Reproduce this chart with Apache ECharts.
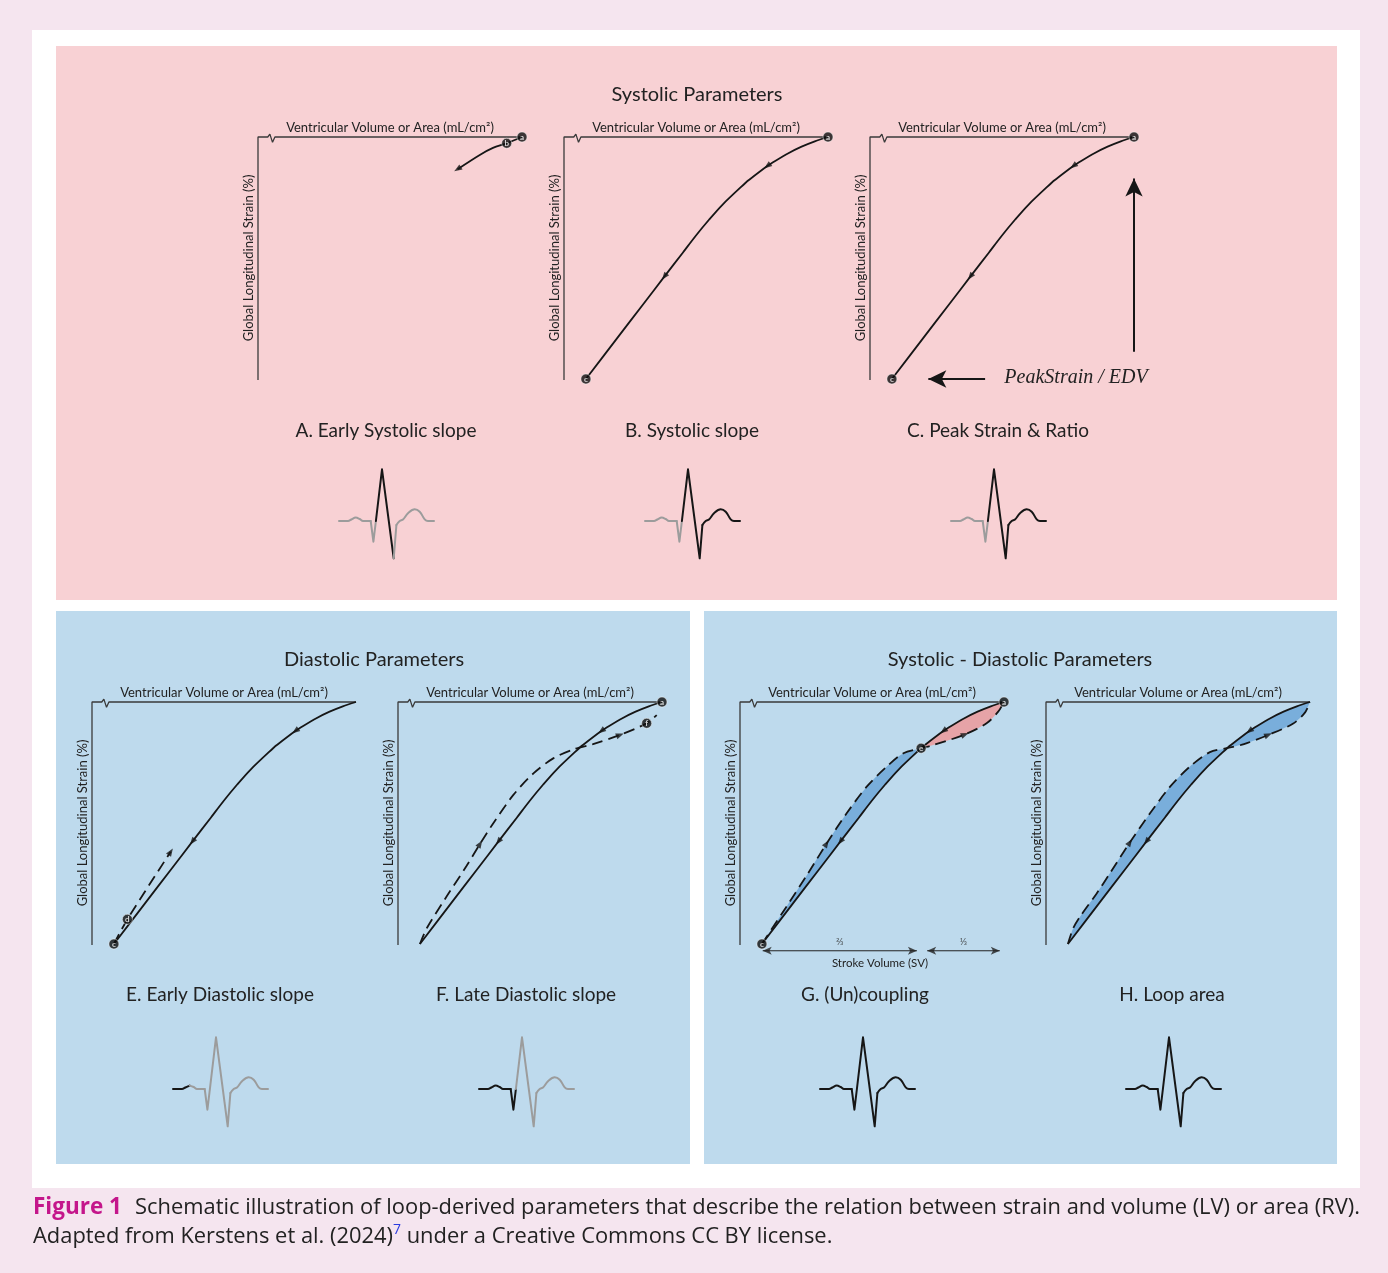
<!DOCTYPE html>
<html>
<head>
<meta charset="utf-8">
<script src="https://cdn.jsdelivr.net/npm/echarts@6/dist/echarts.min.js"></script>
<style>
  html, body { margin: 0; padding: 0; background: #f5e5ef; }
  #chart { width: 1388px; height: 1273px; }
</style>
</head>
<body>
<div id="chart"></div>
<script>
// ---- Loop data: x = volume (0–100, end-diastole at 100), y = strain (0–100, peak shortening at 0)
// Systolic limb, end-diastole (a) -> end-systole (c)
const SYSTOLIC = [[100,100],[95,98.2],[90,96],[85,93.3],[80,90.1],[77,88],[70,82.2],[68.6,80.9],[60,72],[55,65.9],[50,59.3],[45,52.2],[38,42.3],[30,30.9],[20,16.7],[8.3,0]];
// Early systolic portion, a -> b -> onward
const EARLY_SYSTOLIC = [[100,100],[94.2,97.4],[89,95.5],[84,92.6],[75.6,86.7]];
// Early diastolic limb, c -> d -> onward
const EARLY_DIASTOLIC = [[8.3,0],[13.4,10.2],[29.8,38.1]];
// Full diastolic limb, c -> f
const LATE_DIASTOLIC = [[8.3,0],[10.9,6.5],[18.4,19.6],[26,32.3],[31.1,41.4],[36.1,49.9],[43.7,61.6],[51.3,70.5],[58.8,76.7],[66.4,80.4],[73.9,82.6],[84.1,86.4],[94.2,91.2],[98,94.6]];
// Diastolic limb of the uncoupling loop, c -> e -> a
const COUPLING_DIASTOLIC = [[8.3,0],[10.1,3],[17.7,15.6],[25.3,28.4],[32.8,41.5],[40.4,54],[48,65],[55.6,73.3],[61.9,78.8],[68.6,80.9],[73.2,82.2],[85.2,86.6],[93.4,91.2],[97.8,96],[100,100]];
// Diastolic limb of the loop-area example, c -> crossing -> a
const AREA_DIASTOLIC = [[8.3,0],[10.3,6.5],[12.9,11.3],[19.2,20.9],[24.2,29.2],[31.8,42],[39.4,54],[47,65],[54.5,73.3],[62.1,79.3],[68.6,80.9],[75,82.6],[84.2,86.4],[93.5,91],[98,95.5],[100,100]];
// Axis frame with the break symbol near the origin
const FRAME = [[100,100],[6.4,100],[5.5,97.8],[4.5,101.2],[3.7,100],[0,100],[0,-0.4]];
// Peak strain / EDV arrows (vertical and horizontal)
const PEAK_ARROWS = [[[100,11.3],[100,82.9]],[[43.6,0],[22.1,0]]];
// Stroke volume split, ⅔ and ⅓
const SV_SPLIT = [['⅔',[8.6,-2.8],[67,-2.8]],['⅓',[70.9,-2.8],[98.4,-2.8]]];

// ECG beat (x in px from start, y in px above the baseline)
const ECG_WAVE = [[0,0],[9,0],[12.4,1.5],[16.7,3.4],[20.7,2],[24,0],[31.7,0],[34.4,-20.7],[36.9,0],[43,51.7],[54.7,-37.3],[57.4,-4],[60.7,0],[64,1.5],[69,7.7],[75.7,11.7],[80.7,9.3],[85.7,1.7],[89,0],[95,0]];

// ---- Text
const GROUP_TITLES = ['Systolic Parameters', 'Diastolic Parameters', 'Systolic - Diastolic Parameters'];
const PANEL_LABELS = ['A. Early Systolic slope', 'B. Systolic slope', 'C. Peak Strain & Ratio', 'E. Early Diastolic slope', 'F. Late Diastolic slope', 'G. (Un)coupling', 'H. Loop area'];
const X_NAME = 'Ventricular Volume or Area (mL/cm²)';
const Y_NAME = 'Global Longitudinal Strain (%)';
const RATIO_TEXT = 'PeakStrain / EDV';
const SV_TEXT = 'Stroke Volume (SV)';
const CAPTION_TAG = 'Figure 1';
const CAPTION_1 = 'Schematic illustration of loop-derived parameters that describe the relation between strain and volume (LV) or area (RV).';
const CAPTION_2A = 'Adapted from Kerstens et al. (2024)';
const CAPTION_REF = '7';
const CAPTION_2B = ' under a Creative Commons CC BY license.';

// ---- Styling
const FONT = 'Lato, "Open Sans", sans-serif';
const CAP_FONT = '"Open Sans", Lato, sans-serif';
const INK = '#161616';
const FRAME_INK = '#3a3a3a';
const ECG_COLORS = { k: '#161616', g: '#9c9c9c' };
const PINK_BG = '#f8d1d4', BLUE_BG = '#bedaed', PAGE_BG = '#f5e5ef';
const BAND_BLUE = '#79aedb', BAND_RED = '#e6a3a7';
const PLOT_W = 264, PLOT_H = 242;
const DASH = [11, 6];

// ---- Plot layout
const PLOTS = [
  { left: 258, top: 137, solid: EARLY_SYSTOLIC, solidArrows: [4], markers: [['a', EARLY_SYSTOLIC[0]], ['b', EARLY_SYSTOLIC[1]]] },
  { left: 564, top: 137, solid: SYSTOLIC, solidArrows: [5, 12], markers: [['a', SYSTOLIC[0]], ['c', SYSTOLIC[15]]] },
  { left: 870, top: 137, solid: SYSTOLIC, solidArrows: [5, 12], markers: [['a', SYSTOLIC[0]], ['c', SYSTOLIC[15]]], peak: true },
  { left: 92, top: 702, solid: SYSTOLIC, solidArrows: [5, 12], dashed: EARLY_DIASTOLIC, dashedArrows: [2], markers: [['c', SYSTOLIC[15]], ['d', EARLY_DIASTOLIC[1]]] },
  { left: 398, top: 702, solid: SYSTOLIC, solidArrows: [5, 12], dashed: LATE_DIASTOLIC, dashedArrows: [4, 11], markers: [['a', SYSTOLIC[0]], ['f', LATE_DIASTOLIC[12]]] },
  { left: 740, top: 702, solid: SYSTOLIC, solidArrows: [5, 12], dashed: COUPLING_DIASTOLIC, dashedArrows: [4, 11], split: [9, 7], bands: [BAND_BLUE, BAND_RED], markers: [['a', SYSTOLIC[0]], ['e', SYSTOLIC[7]], ['c', SYSTOLIC[15]]], sv: true },
  { left: 1046, top: 702, solid: SYSTOLIC, solidArrows: [5, 12], dashed: AREA_DIASTOLIC, dashedArrows: [5, 12], split: [10, 7], bands: [BAND_BLUE, BAND_BLUE], markers: [] }
];
const LABEL_POS = [[386,431],[692,431],[998,431],[220,995],[526,995],[865,995],[1172,995]];
const TITLE_POS = [[697,95],[374,660],[1020,660]];

// ECG strips: colour runs are [last vertex index, colour key]
const ECGS = [
  { left: 339, base: 521, runs: [[8,'g'],[10,'k'],[19,'g']] },
  { left: 645, base: 521, runs: [[8,'g'],[19,'k']] },
  { left: 951, base: 521, runs: [[8,'g'],[19,'k']] },
  { left: 173, base: 1089, runs: [[3,'k'],[19,'g']] },
  { left: 479, base: 1089, runs: [[8,'k'],[19,'g']] },
  { left: 820, base: 1089, runs: [[19,'k']] },
  { left: 1126, base: 1089, runs: [[19,'k']] }
];
const ECG_STRAIGHT = [6, 11]; // QRS vertices drawn without smoothing

const grid = [], xAxis = [], yAxis = [], series = [];
const hidden = { axisLine: { show: false }, axisTick: { show: false }, axisLabel: { show: false }, splitLine: { show: false } };

// arrowheads placed on curve vertices, pointing along the direction of travel
function arrowItems(curve, idxs) {
  const sx = PLOT_W / 100, sy = PLOT_H / 100;
  return idxs.map(i => {
    const p = curve[Math.max(i - 1, 0)], n = curve[Math.min(i + 1, curve.length - 1)];
    const ang = Math.atan2((n[1] - p[1]) * sy, (n[0] - p[0]) * sx) * 180 / Math.PI;
    return { value: curve[i], symbolRotate: ang - 90 };
  });
}

PLOTS.forEach(p => {
  const gi = grid.length;
  grid.push({ left: p.left, top: p.top, width: PLOT_W, height: PLOT_H });
  xAxis.push(Object.assign({ gridIndex: gi, type: 'value', min: 0, max: 100, position: 'top',
    name: X_NAME, nameLocation: 'middle', nameGap: 3,
    nameTextStyle: { fontFamily: FONT, fontSize: 13, color: '#222' } }, hidden));
  yAxis.push(Object.assign({ gridIndex: gi, type: 'value', min: 0, max: 100,
    name: Y_NAME, nameLocation: 'middle', nameGap: 3, nameRotate: 90,
    nameTextStyle: { fontFamily: FONT, fontSize: 13, color: '#222' } }, hidden));
  const base = { xAxisIndex: gi, yAxisIndex: gi, silent: true, animation: false, clip: false };

  // frame
  series.push(Object.assign({ type: 'line', data: FRAME, symbol: 'none', z: 2,
    lineStyle: { color: FRAME_INK, width: 1.3 } }, base));

  // loop bands between the two limbs
  if (p.bands) {
    const [dSplit, sSplit] = p.split;
    const lower = p.dashed.slice(0, dSplit + 1).concat(p.solid.slice(sSplit));
    const upper = p.dashed.slice(dSplit).concat(p.solid.slice(0, sSplit + 1));
    [[lower, p.bands[0]], [upper, p.bands[1]]].forEach(([poly, col]) => {
      series.push(Object.assign({ type: 'custom', data: [[0, 0]], z: 1,
        renderItem: (params, api) => ({ type: 'polygon',
          shape: { points: poly.map(pt => api.coord(pt)), smooth: 0.25 },
          style: { fill: col } }) }, base));
    });
  }

  series.push(Object.assign({ type: 'line', data: p.solid, symbol: 'none', smooth: 0.3, z: 3,
    lineStyle: { color: INK, width: 1.8 } }, base));
  series.push(Object.assign({ type: 'scatter', data: arrowItems(p.solid, p.solidArrows),
    symbol: 'triangle', symbolSize: [6, 8], itemStyle: { color: INK }, z: 4 }, base));

  if (p.dashed) {
    series.push(Object.assign({ type: 'line', data: p.dashed, symbol: 'none', smooth: 0.3, z: 3,
      lineStyle: { color: INK, width: 1.8, type: DASH } }, base));
    series.push(Object.assign({ type: 'scatter', data: arrowItems(p.dashed, p.dashedArrows),
      symbol: 'triangle', symbolSize: [6, 8], itemStyle: { color: INK }, z: 4 }, base));
  }

  if (p.markers.length) {
    series.push(Object.assign({ type: 'scatter', z: 5, symbolSize: 10,
      data: p.markers.map(([name, pt]) => ({ name, value: pt })),
      itemStyle: { color: '#0d0d0d', borderColor: '#fff', borderWidth: 0.6 },
      label: { show: true, position: 'inside', formatter: '{b}', color: '#fff', fontSize: 8, fontWeight: 'bold', fontFamily: FONT } }, base));
  }

  if (p.peak) {
    series.push(Object.assign({ type: 'line', data: [], z: 4,
      markLine: { silent: true, animation: false, symbol: ['none', 'arrow'], symbolSize: [13, 18],
        label: { show: false }, lineStyle: { color: INK, width: 2, type: 'solid' },
        data: PEAK_ARROWS.map(([s, e]) => [{ coord: s }, { coord: e }]) } }, base));
  }

  if (p.sv) {
    // double-headed stroke volume arrows below the loop
    SV_SPLIT.forEach(([name, s, e]) => {
      series.push(Object.assign({ type: 'line', data: [s, e], symbol: 'none', z: 4,
        lineStyle: { color: '#222', width: 1 } }, base));
      series.push(Object.assign({ type: 'scatter', z: 4, symbol: 'arrow', symbolSize: [6, 9],
        itemStyle: { color: '#222' },
        data: [{ value: s, symbolRotate: 90 }, { value: e, symbolRotate: -90 }] }, base));
      series.push(Object.assign({ type: 'scatter', z: 4, symbol: 'circle', symbolSize: 2,
        itemStyle: { color: 'rgba(0,0,0,0)' },
        label: { show: true, position: 'top', distance: 3, formatter: '{b}', fontSize: 10, color: '#333', fontFamily: FONT },
        data: [{ name, value: [(s[0] + e[0]) / 2, s[1]] }] }, base));
    });
  }
});

// ECG strips
ECGS.forEach(e => {
  const gi = grid.length;
  grid.push({ left: e.left, top: e.base - 55, width: 95, height: 95 });
  xAxis.push(Object.assign({ gridIndex: gi, type: 'value', min: 0, max: 95, show: false }, hidden));
  yAxis.push(Object.assign({ gridIndex: gi, type: 'value', min: -40, max: 55, show: false }, hidden));
  let start = 0;
  e.runs.forEach(([end, c]) => {
    const cuts = [start, ...ECG_STRAIGHT.filter(b => b > start && b < end), end];
    for (let i = 0; i < cuts.length - 1; i++) {
      const a = cuts[i], b = cuts[i + 1];
      const straight = a >= ECG_STRAIGHT[0] && b <= ECG_STRAIGHT[1];
      series.push({ type: 'line', xAxisIndex: gi, yAxisIndex: gi, silent: true, animation: false, clip: false,
        data: ECG_WAVE.slice(a, b + 1), symbol: 'none', smooth: straight ? false : 0.4, z: 3,
        lineStyle: { color: ECG_COLORS[c], width: 2, join: 'round', cap: 'round' } });
    }
    start = end;
  });
});

// Page, panels and text
const txt = (x, y, text, font, fill, align) => ({ type: 'text', x, y, z: 10,
  style: { text, font, fill, align: align || 'center', verticalAlign: 'middle', textAlign: align || 'center', textVerticalAlign: 'middle' } });

const graphic = [
  { type: 'rect', z: -10, shape: { x: 32, y: 30, width: 1328, height: 1158 }, style: { fill: '#ffffff' } },
  { type: 'rect', z: -9, shape: { x: 56, y: 46, width: 1281, height: 554 }, style: { fill: PINK_BG } },
  { type: 'rect', z: -9, shape: { x: 56, y: 611, width: 634, height: 553 }, style: { fill: BLUE_BG } },
  { type: 'rect', z: -9, shape: { x: 704, y: 611, width: 633, height: 553 }, style: { fill: BLUE_BG } },
  ...GROUP_TITLES.map((t, i) => txt(TITLE_POS[i][0], TITLE_POS[i][1], t, '20px ' + FONT, '#222')),
  ...PANEL_LABELS.map((t, i) => txt(LABEL_POS[i][0], LABEL_POS[i][1], t, '19px ' + FONT, '#222')),
  txt(1076, 378, RATIO_TEXT, 'italic 20px "Liberation Serif", "DejaVu Serif", serif', '#222'),
  txt(880, 963, SV_TEXT, '11.5px ' + FONT, '#222'),
  txt(33, 1208, CAPTION_TAG, 'bold 22.5px ' + CAP_FONT, '#c4168b', 'left'),
  txt(135, 1208, CAPTION_1, '21.9px ' + CAP_FONT, '#222', 'left'),
  { type: 'text', x: 33, y: 1237, z: 10, style: {
      text: '{n|' + CAPTION_2A + '}{s|' + CAPTION_REF + '}{n|' + CAPTION_2B + '}',
      verticalAlign: 'middle', textVerticalAlign: 'middle',
      rich: { n: { font: '21.9px ' + CAP_FONT, fill: '#222', color: '#222', lineHeight: 27 },
              s: { font: '14px ' + CAP_FONT, fill: '#2b3be0', color: '#2b3be0', lineHeight: 27, verticalAlign: 'top' } } } }
];

const chart = echarts.init(document.getElementById('chart'));
chart.setOption({ backgroundColor: PAGE_BG, animation: false, grid, xAxis, yAxis, series, graphic });
</script>
</body>
</html>
